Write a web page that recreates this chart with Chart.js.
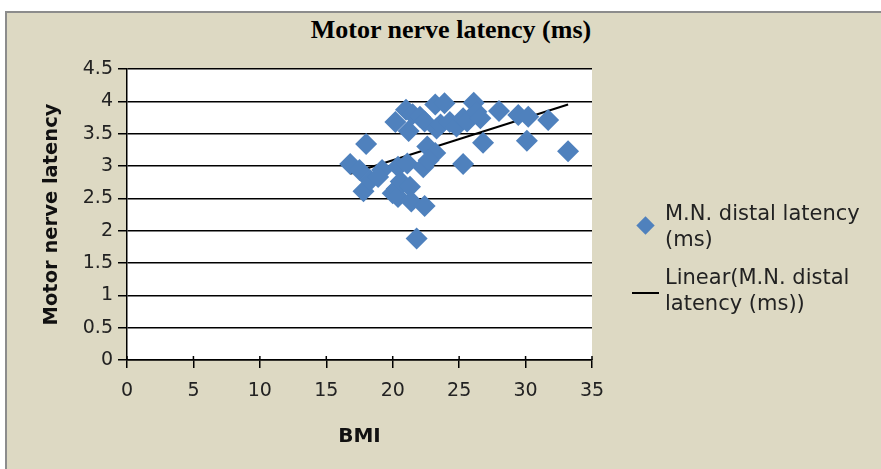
<!DOCTYPE html>
<html>
<head>
<meta charset="utf-8">
<script src="https://cdn.jsdelivr.net/npm/chart.js@4/dist/chart.umd.min.js"></script>
<style>
  body { margin: 0; background: #fff; width: 881px; height: 469px; overflow: hidden; position: relative; }
  #frame { position: absolute; left: 5px; top: 11px; width: 900px; height: 480px; background: #DDD9C3; border: 2px solid #8c8c8c; }
  #wrap { position: absolute; left: 0; top: 0; width: 881px; height: 469px; }
  #title { position: absolute; left: 251px; width: 400px; top: 14px; text-align: center; font-family: 'Liberation Serif', serif; font-weight: bold; font-size: 26px; line-height: 32px; color: #000; }
  .legend { position: absolute; left: 632px; top: 200px; font-family: 'DejaVu Sans', sans-serif; font-size: 21px; color: #222; line-height: 26px; }
  .legend .row { position: relative; padding-left: 33px; }
  .legend .diamond { position: absolute; left: 7px; top: 19px; width: 13px; height: 13px; background: #4F81BD; transform: rotate(45deg); }
  .legend .line { position: absolute; left: 0; top: 28px; width: 27px; height: 2px; background: #000; }
</style>
</head>
<body>
<div id="frame"></div>
<div id="title">Motor nerve latency (ms)</div>
<div id="wrap"><canvas id="chart" width="881" height="469"></canvas></div>
<div class="legend">
  <div class="row"><span class="diamond"></span>M.N. distal latency<br>(ms)</div>
  <div class="row" style="margin-top:12px"><span class="line"></span>Linear(M.N. distal<br>latency (ms))</div>
</div>
<script>
// BMI vs motor nerve distal latency
const bmi = [16.8, 17.5, 18.0, 17.8, 18.3, 19.2, 20.4, 18.9, 20.0, 20.3, 20.4, 20.6, 21.3, 21.4, 22.4, 21.8,
  21.1, 22.3, 22.6, 23.2, 22.7, 25.3, 20.2, 21.0, 21.2, 21.5, 22.05, 22.4, 23.2, 23.9, 23.3, 23.6,
  24.3, 24.8, 25.3, 25.6, 26.1, 26.3, 26.6, 26.8, 28.0, 29.45, 30.2, 30.1, 31.7, 33.2];
const latency = [3.03, 2.94, 3.34, 2.61, 2.78, 2.94, 2.99, 2.83, 2.58, 2.65, 2.52, 2.76, 2.68, 2.45, 2.38, 1.88,
  3.04, 2.98, 3.30, 3.20, 3.09, 3.03, 3.68, 3.87, 3.54, 3.80, 3.76, 3.69, 3.95, 3.97, 3.58, 3.64,
  3.68, 3.61, 3.74, 3.69, 3.98, 3.84, 3.74, 3.36, 3.85, 3.79, 3.76, 3.39, 3.71, 3.23];
// trend line ends
const trendX = [16.8, 33.2];
const trendY = [2.88, 3.95];

const points = bmi.map((x, i) => ({ x: x, y: latency[i] }));
const trend = trendX.map((x, i) => ({ x: x, y: trendY[i] }));

// white plot area + the little tick marks that cross the x axis
const plotBg = {
  id: 'plotBg',
  beforeDraw(chart) {
    const a = chart.chartArea, c = chart.ctx;
    c.save();
    c.fillStyle = '#fff';
    c.fillRect(a.left, a.top, a.right - a.left, a.bottom - a.top);
    c.restore();
  },
  afterDraw(chart) {
    const sx = chart.scales.x, a = chart.chartArea, c = chart.ctx;
    c.save();
    c.strokeStyle = '#000';
    c.lineWidth = 1.5;
    sx.ticks.forEach(t => {
      const px = sx.getPixelForValue(t.value);
      c.beginPath();
      c.moveTo(px, a.bottom - 4);
      c.lineTo(px, a.bottom);
      c.stroke();
    });
    c.restore();
  }
};

new Chart(document.getElementById('chart'), {
  type: 'scatter',
  data: {
    datasets: [{
      label: 'M.N. distal latency (ms)',
      data: points,
      pointStyle: 'rectRot',
      pointRadius: 11,
      pointHoverRadius: 11,
      backgroundColor: '#4F81BD',
      borderColor: '#4F81BD',
      borderWidth: 0
    }, {
      label: 'Linear(M.N. distal latency (ms))',
      type: 'line',
      data: trend,
      borderColor: '#000',
      borderWidth: 2,
      pointRadius: 0,
      fill: false
    }]
  },
  options: {
    responsive: false,
    animation: false,
    layout: { padding: { left: 0, right: 289, top: 69, bottom: 0 } },
    scales: {
      x: {
        type: 'linear',
        min: 0, max: 35,
        ticks: { stepSize: 5, color: '#222', padding: 12, font: { family: 'DejaVu Sans', size: 19 } },
        grid: { drawOnChartArea: false, color: '#000', lineWidth: 1.5, tickLength: 8 },
        border: { color: '#000', width: 1.5 },
        title: { display: true, text: 'BMI', color: '#111', font: { family: 'DejaVu Sans', size: 20, weight: 'bold' }, padding: { top: 0, bottom: 20 } },
        afterFit(s) { s.height = 109; }
      },
      y: {
        min: 0, max: 4.5,
        ticks: {
          stepSize: 0.5, color: '#222', padding: 5, font: { family: 'DejaVu Sans', size: 19 },
          callback: v => String(v)
        },
        grid: { color: '#000', lineWidth: 1.5, tickLength: 9 },
        border: { color: '#000', width: 1.5 },
        title: { display: true, text: 'Motor nerve latency', color: '#111', font: { family: 'DejaVu Sans', size: 19.5, weight: 'bold' }, padding: { top: 40, bottom: 0 } },
        afterFit(s) { s.width = 127; }
      }
    },
    plugins: {
      legend: { display: false },
      tooltip: { enabled: false },
      title: { display: false }
    }
  },
  plugins: [plotBg]
});
</script>
</body>
</html>
